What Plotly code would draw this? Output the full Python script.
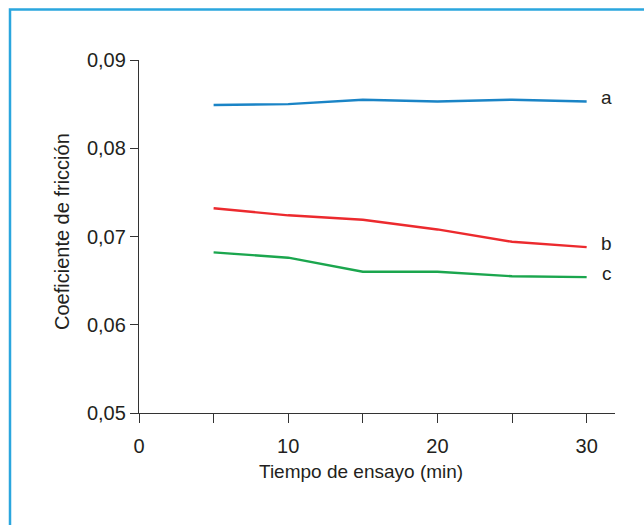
import plotly.graph_objects as go

tiempo = [5, 10, 15, 20, 25, 30]
serie_a = [0.0849, 0.0850, 0.0855, 0.0853, 0.0855, 0.0853]
serie_b = [0.0732, 0.0724, 0.0719, 0.0708, 0.0694, 0.0688]
serie_c = [0.0682, 0.0676, 0.0660, 0.0660, 0.0655, 0.0654]
etiquetas = ["a", "b", "c"]
y_ticks = [0.05, 0.06, 0.07, 0.08, 0.09]
y_ticktext = ["0,05", "0,06", "0,07", "0,08", "0,09"]
x_ticks = [0, 10, 20, 30]

colores = ["#1a84c6", "#ec2a2e", "#1ba64e"]
FONT = "Liberation Sans, Arial, sans-serif"
TXT = "#231f20"

fig = go.Figure()
for ys, col, lab in zip([serie_a, serie_b, serie_c], colores, etiquetas):
    fig.add_trace(go.Scatter(x=tiempo, y=ys, mode="lines",
                             line=dict(color=col, width=2.4), name=lab,
                             showlegend=False, hoverinfo="skip"))
    fig.add_annotation(x=tiempo[-1], y=ys[-1], text=lab, showarrow=False,
                       xanchor="center", xshift=20, yshift=4,
                       font=dict(family=FONT, size=19, color=TXT))

fig.update_layout(
    width=644, height=525,
    margin=dict(l=139, r=29, t=60, b=112),
    paper_bgcolor="white", plot_bgcolor="white",
    font=dict(family=FONT, size=19, color=TXT),
    xaxis=dict(range=[0, 31.9], tickvals=x_ticks, ticks="outside", ticklen=9,
               tickwidth=1.2, tickcolor="#333", showline=True, linecolor="#333",
               linewidth=1.3, showgrid=False, zeroline=False,
               ticklabelstandoff=6,
               tickfont=dict(family=FONT, size=20, color=TXT),
               minor=dict(dtick=5, tick0=0, ticks="outside", ticklen=9,
                          tickwidth=1.2, tickcolor="#333", showgrid=False)),
    yaxis=dict(range=[0.05, 0.09], tickvals=y_ticks, ticktext=y_ticktext,
               ticks="outside", ticklen=8, tickwidth=1.2, tickcolor="#333",
               showline=True, linecolor="#333", linewidth=1.3,
               showgrid=False, zeroline=False,
               tickfont=dict(family=FONT, size=20, color=TXT)),
)

# axis titles placed as annotations
fig.add_annotation(xref="paper", yref="paper", x=(361 - 139) / 476,
                   y=-(471 - 413) / 353, text="Tiempo de ensayo (min)",
                   showarrow=False, xanchor="center", yanchor="middle",
                   font=dict(family=FONT, size=19, color=TXT))
fig.add_annotation(xref="paper", yref="paper", x=(62 - 139) / 476,
                   y=(413 - 232) / 353, text="Coeficiente de fricción",
                   textangle=-90, showarrow=False, xanchor="center",
                   yanchor="middle",
                   font=dict(family=FONT, size=20, color=TXT))

# frame border
fig.add_shape(type="rect", xref="paper", yref="paper",
              x0=(10 - 139) / 476, x1=1.3, y0=-0.5, y1=1 + (60 - 9.5) / 353,
              line=dict(color="#2ba6de", width=2.5), layer="below")

fig.write_html("out.html")
